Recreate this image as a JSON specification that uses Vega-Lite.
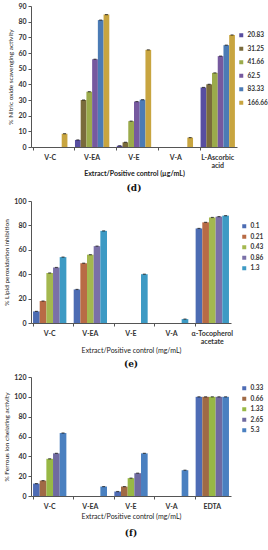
{
  "$schema": "https://vega.github.io/schema/vega-lite/v6.json",
  "background": "white",
  "padding": {"left": 3, "top": 2, "right": 0, "bottom": 0},
  "spacing": 4,
  "align": "none",
  "config": {
    "view": {"stroke": null},
    "font": "Lato",
    "axis": {"grid": false, "domainColor": "#555", "tickColor": "#555", "labelFont": "Lato", "labelFontSize": 7, "labelFontWeight": "bold", "labelColor": "#333", "titleFont": "Lato", "titleFontSize": 6.5, "titleFontWeight": "normal", "titleColor": "#222", "tickSize": 3},
    "legend": {"labelFont": "Lato", "labelFontSize": 6.5, "labelFontWeight": "bold", "labelColor": "#333", "symbolType": "square", "symbolSize": 16, "symbolStrokeWidth": 0, "labelOffset": 3, "title": null},
    "title": {"font": "DejaVu Serif", "fontSize": 9, "fontWeight": "bold", "color": "#111"}
  },
  "datasets": {
    "d": [
      {"group": "V-C", "conc": "166.66", "value": 8.5},
      {"group": "V-EA", "conc": "20.83", "value": 4.5},
      {"group": "V-EA", "conc": "31.25", "value": 30},
      {"group": "V-EA", "conc": "41.66", "value": 35.3},
      {"group": "V-EA", "conc": "62.5", "value": 56},
      {"group": "V-EA", "conc": "83.33", "value": 81},
      {"group": "V-EA", "conc": "166.66", "value": 84.5},
      {"group": "V-E", "conc": "20.83", "value": 0.8},
      {"group": "V-E", "conc": "31.25", "value": 3},
      {"group": "V-E", "conc": "41.66", "value": 16.5},
      {"group": "V-E", "conc": "62.5", "value": 29},
      {"group": "V-E", "conc": "83.33", "value": 30.2},
      {"group": "V-E", "conc": "166.66", "value": 62},
      {"group": "V-A", "conc": "166.66", "value": 6},
      {"group": "L-Ascorbic acid", "conc": "20.83", "value": 38},
      {"group": "L-Ascorbic acid", "conc": "31.25", "value": 40},
      {"group": "L-Ascorbic acid", "conc": "41.66", "value": 47.3},
      {"group": "L-Ascorbic acid", "conc": "62.5", "value": 58},
      {"group": "L-Ascorbic acid", "conc": "83.33", "value": 65},
      {"group": "L-Ascorbic acid", "conc": "166.66", "value": 71.5}
    ],
    "e": [
      {"group": "V-C", "conc": "0.1", "value": 9.5},
      {"group": "V-C", "conc": "0.21", "value": 18},
      {"group": "V-C", "conc": "0.43", "value": 41},
      {"group": "V-C", "conc": "0.86", "value": 45.5},
      {"group": "V-C", "conc": "1.3", "value": 54},
      {"group": "V-EA", "conc": "0.1", "value": 27.5},
      {"group": "V-EA", "conc": "0.21", "value": 49},
      {"group": "V-EA", "conc": "0.43", "value": 56},
      {"group": "V-EA", "conc": "0.86", "value": 63},
      {"group": "V-EA", "conc": "1.3", "value": 75.5},
      {"group": "V-E", "conc": "1.3", "value": 40},
      {"group": "V-A", "conc": "1.3", "value": 3.2},
      {"group": "α-Tocopherol acetate", "conc": "0.1", "value": 77.5},
      {"group": "α-Tocopherol acetate", "conc": "0.21", "value": 82.5},
      {"group": "α-Tocopherol acetate", "conc": "0.43", "value": 86.5},
      {"group": "α-Tocopherol acetate", "conc": "0.86", "value": 87.2},
      {"group": "α-Tocopherol acetate", "conc": "1.3", "value": 88}
    ],
    "f": [
      {"group": "V-C", "conc": "0.33", "value": 12.5},
      {"group": "V-C", "conc": "0.66", "value": 15.5},
      {"group": "V-C", "conc": "1.33", "value": 37.5},
      {"group": "V-C", "conc": "2.65", "value": 43},
      {"group": "V-C", "conc": "5.3", "value": 63.5},
      {"group": "V-EA", "conc": "5.3", "value": 9.5},
      {"group": "V-E", "conc": "0.33", "value": 4.5},
      {"group": "V-E", "conc": "0.66", "value": 9.5},
      {"group": "V-E", "conc": "1.33", "value": 18},
      {"group": "V-E", "conc": "2.65", "value": 23},
      {"group": "V-E", "conc": "5.3", "value": 43},
      {"group": "V-A", "conc": "5.3", "value": 26},
      {"group": "EDTA", "conc": "0.33", "value": 100},
      {"group": "EDTA", "conc": "0.66", "value": 100},
      {"group": "EDTA", "conc": "1.33", "value": 100},
      {"group": "EDTA", "conc": "2.65", "value": 100},
      {"group": "EDTA", "conc": "5.3", "value": 100}
    ]
  },
  "resolve": {"scale": {"color": "independent", "x": "independent", "y": "independent", "xOffset": "independent"}, "legend": {"color": "independent"}},
  "vconcat": [
    {
      "width": 206, "height": 141,
      "data": {"name": "d"},
      "title": {"text": "(d)", "orient": "bottom", "offset": 8},
      "encoding": {
        "x": {"field": "group", "type": "nominal", "sort": ["V-C", "V-EA", "V-E", "V-A", "L-Ascorbic acid"], "scale": {"paddingInner": 0.18, "paddingOuter": 0.05}, "axis": {"labelAngle": 0, "bandPosition": 0, "title": "Extract/Positive control (µg/mL)", "titleFontSize": 7, "titleFontWeight": "bold", "titlePadding": 1, "labelPadding": 3, "labelLineHeight": 8, "labelExpr": "datum.label == 'L-Ascorbic acid' ? ['L-Ascorbic', 'acid'] : datum.label"}},
        "xOffset": {"field": "conc", "type": "nominal", "sort": ["20.83", "31.25", "41.66", "62.5", "83.33", "166.66"]},
        "y": {"field": "value", "type": "quantitative", "scale": {"domain": [0, 90]}, "axis": {"values": [0, 10, 20, 30, 40, 50, 60, 70, 80, 90], "title": "% Nitric oxide scavenging activity", "titlePadding": 4}}
      },
      "layer": [
        {"mark": {"type": "bar"}, "encoding": {"color": {"field": "conc", "type": "nominal", "sort": ["20.83", "31.25", "41.66", "62.5", "83.33", "166.66"], "scale": {"range": ["#584ea0", "#7a6b3b", "#9bab4b", "#76599f", "#4b7bb5", "#c8a540"]}, "legend": {"orient": "none", "legendX": 207, "legendY": 26, "rowPadding": 6.5}}}},
        {"mark": {"type": "tick", "color": "#111", "thickness": 1.2, "size": 3}, "encoding": {}}
      ]
    },
    {
      "width": 200, "height": 122,
      "data": {"name": "e"},
      "title": {"text": "(e)", "orient": "bottom", "offset": 7},
      "encoding": {
        "x": {"field": "group", "type": "nominal", "sort": ["V-C", "V-EA", "V-E", "V-A", "α-Tocopherol acetate"], "scale": {"paddingInner": 0.18, "paddingOuter": 0.05}, "axis": {"labelAngle": 0, "bandPosition": 0, "title": "Extract/Positive control (mg/mL)", "titleFontSize": 7, "titleFontWeight": "normal", "titlePadding": 2, "labelPadding": 3, "labelLineHeight": 8, "labelExpr": "datum.label == 'α-Tocopherol acetate' ? ['α-Tocopherol', 'acetate'] : datum.label"}},
        "xOffset": {"field": "conc", "type": "nominal", "sort": ["0.1", "0.21", "0.43", "0.86", "1.3"]},
        "y": {"field": "value", "type": "quantitative", "scale": {"domain": [0, 100]}, "axis": {"values": [0, 20, 40, 60, 80, 100], "title": "% Lipid peroxidation inhibition", "titlePadding": 4}}
      },
      "layer": [
        {"mark": {"type": "bar"}, "encoding": {"color": {"field": "conc", "type": "nominal", "sort": ["0.1", "0.21", "0.43", "0.86", "1.3"], "scale": {"range": ["#4c6cb3", "#b86b45", "#a4b84f", "#7a70a8", "#3d9ac4"]}, "legend": {"orient": "none", "legendX": 210, "legendY": 22, "rowPadding": 3.5}}}},
        {"mark": {"type": "tick", "color": "#111", "thickness": 1.2, "size": 3}, "encoding": {}}
      ]
    },
    {
      "width": 200, "height": 119,
      "data": {"name": "f"},
      "title": {"text": "(f)", "orient": "bottom", "offset": 10},
      "encoding": {
        "x": {"field": "group", "type": "nominal", "sort": ["V-C", "V-EA", "V-E", "V-A", "EDTA"], "scale": {"paddingInner": 0.18, "paddingOuter": 0.05}, "axis": {"labelAngle": 0, "bandPosition": 0, "title": "Extract/Positive control (mg/mL)", "titleFontSize": 7, "titleFontWeight": "normal", "titlePadding": 3, "labelPadding": 3}},
        "xOffset": {"field": "conc", "type": "nominal", "sort": ["0.33", "0.66", "1.33", "2.65", "5.3"]},
        "y": {"field": "value", "type": "quantitative", "scale": {"domain": [0, 120]}, "axis": {"values": [0, 20, 40, 60, 80, 100, 120], "title": "% Ferrous ion chelating activity", "titlePadding": 4}}
      },
      "layer": [
        {"mark": {"type": "bar"}, "encoding": {"color": {"field": "conc", "type": "nominal", "sort": ["0.33", "0.66", "1.33", "2.65", "5.3"], "scale": {"range": ["#4e6cb5", "#a06a45", "#98b845", "#6f6aa0", "#4a80c0"]}, "legend": {"orient": "none", "legendX": 210, "legendY": 8, "rowPadding": 3.5}}}},
        {"mark": {"type": "tick", "color": "#111", "thickness": 1.2, "size": 3}, "encoding": {}}
      ]
    }
  ]
}
